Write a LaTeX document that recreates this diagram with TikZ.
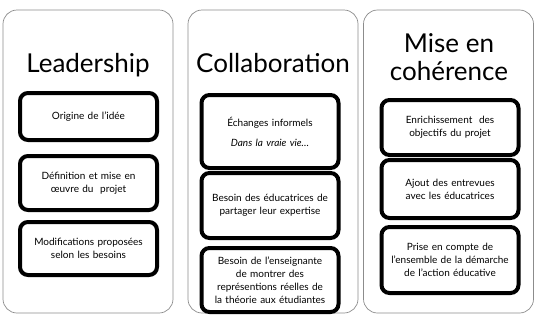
\documentclass[tikz,border=0pt]{standalone}
\usepackage{fontspec}
\setmainfont{Lato}
\usetikzlibrary{positioning}

\begin{document}
\begin{tikzpicture}[x=1pt, y=-1pt,
  colbox/.style={draw=black!45, line width=0.7pt, rounded corners=14pt, minimum width=170pt, minimum height=303pt, inner sep=0pt},
  coltitle/.style={font=\fontsize{26}{28}\selectfont, inner sep=0pt, anchor=base},
  itembox/.style={draw, line width=4pt, rounded corners=8pt, fill=white, minimum width=137pt, align=center, text width=134pt, inner sep=0pt, font=\fontsize{10}{13}\selectfont}]
\useasboundingbox (0,0) rectangle (542,322);

\node[colbox] (lead) at (88,161.5) {};
\node[colbox] (coll) at (273,161.5) {};
\node[colbox] (mise) at (448.5,161.5) {};

\node[coltitle] (leadtitle) at (88,72) {Leadership};
\node[coltitle] (colltitle) at (273,72) {Collaboration};
\node[coltitle] (misetitle) at (449,52) {Mise en};
\node[coltitle] (misetitle2) at (449,80) {cohérence};

\node[itembox, minimum height=47pt] (lead1) at (88.5,116.5) {Origine de l'idée};
\node[itembox, minimum height=54pt] (lead2) at (88.5,183) {Définition et mise en\\\oe{}uvre du\ \ projet};
\node[itembox, minimum height=53pt] (lead3) at (88.5,248.5) {Modifications proposées\\selon les besoins};

\node[itembox, minimum height=73pt] (coll1) at (270,131.5) {Échanges informels\\[7pt]\textit{Dans la vraie vie…}};
\node[itembox, minimum height=65pt] (coll2) at (270,205.5) {Besoin des éducatrices de\\partager leur expertise};
\node[itembox, minimum height=64pt] (coll3) at (270,280) {Besoin de l'enseignante\\de montrer des\\représentions réelles de\\la théorie aux étudiantes};

\node[itembox, minimum height=55pt] (mise1) at (450,127.5) {Enrichissement\ \ des\\objectifs du projet};
\node[itembox, minimum height=58pt] (mise2) at (450,189) {Ajout des entrevues\\avec les éducatrices};
\node[itembox, minimum height=66pt] (mise3) at (450,260) {Prise en compte de\\l'ensemble de la démarche\\de l'action éducative};
\end{tikzpicture}
\end{document}
